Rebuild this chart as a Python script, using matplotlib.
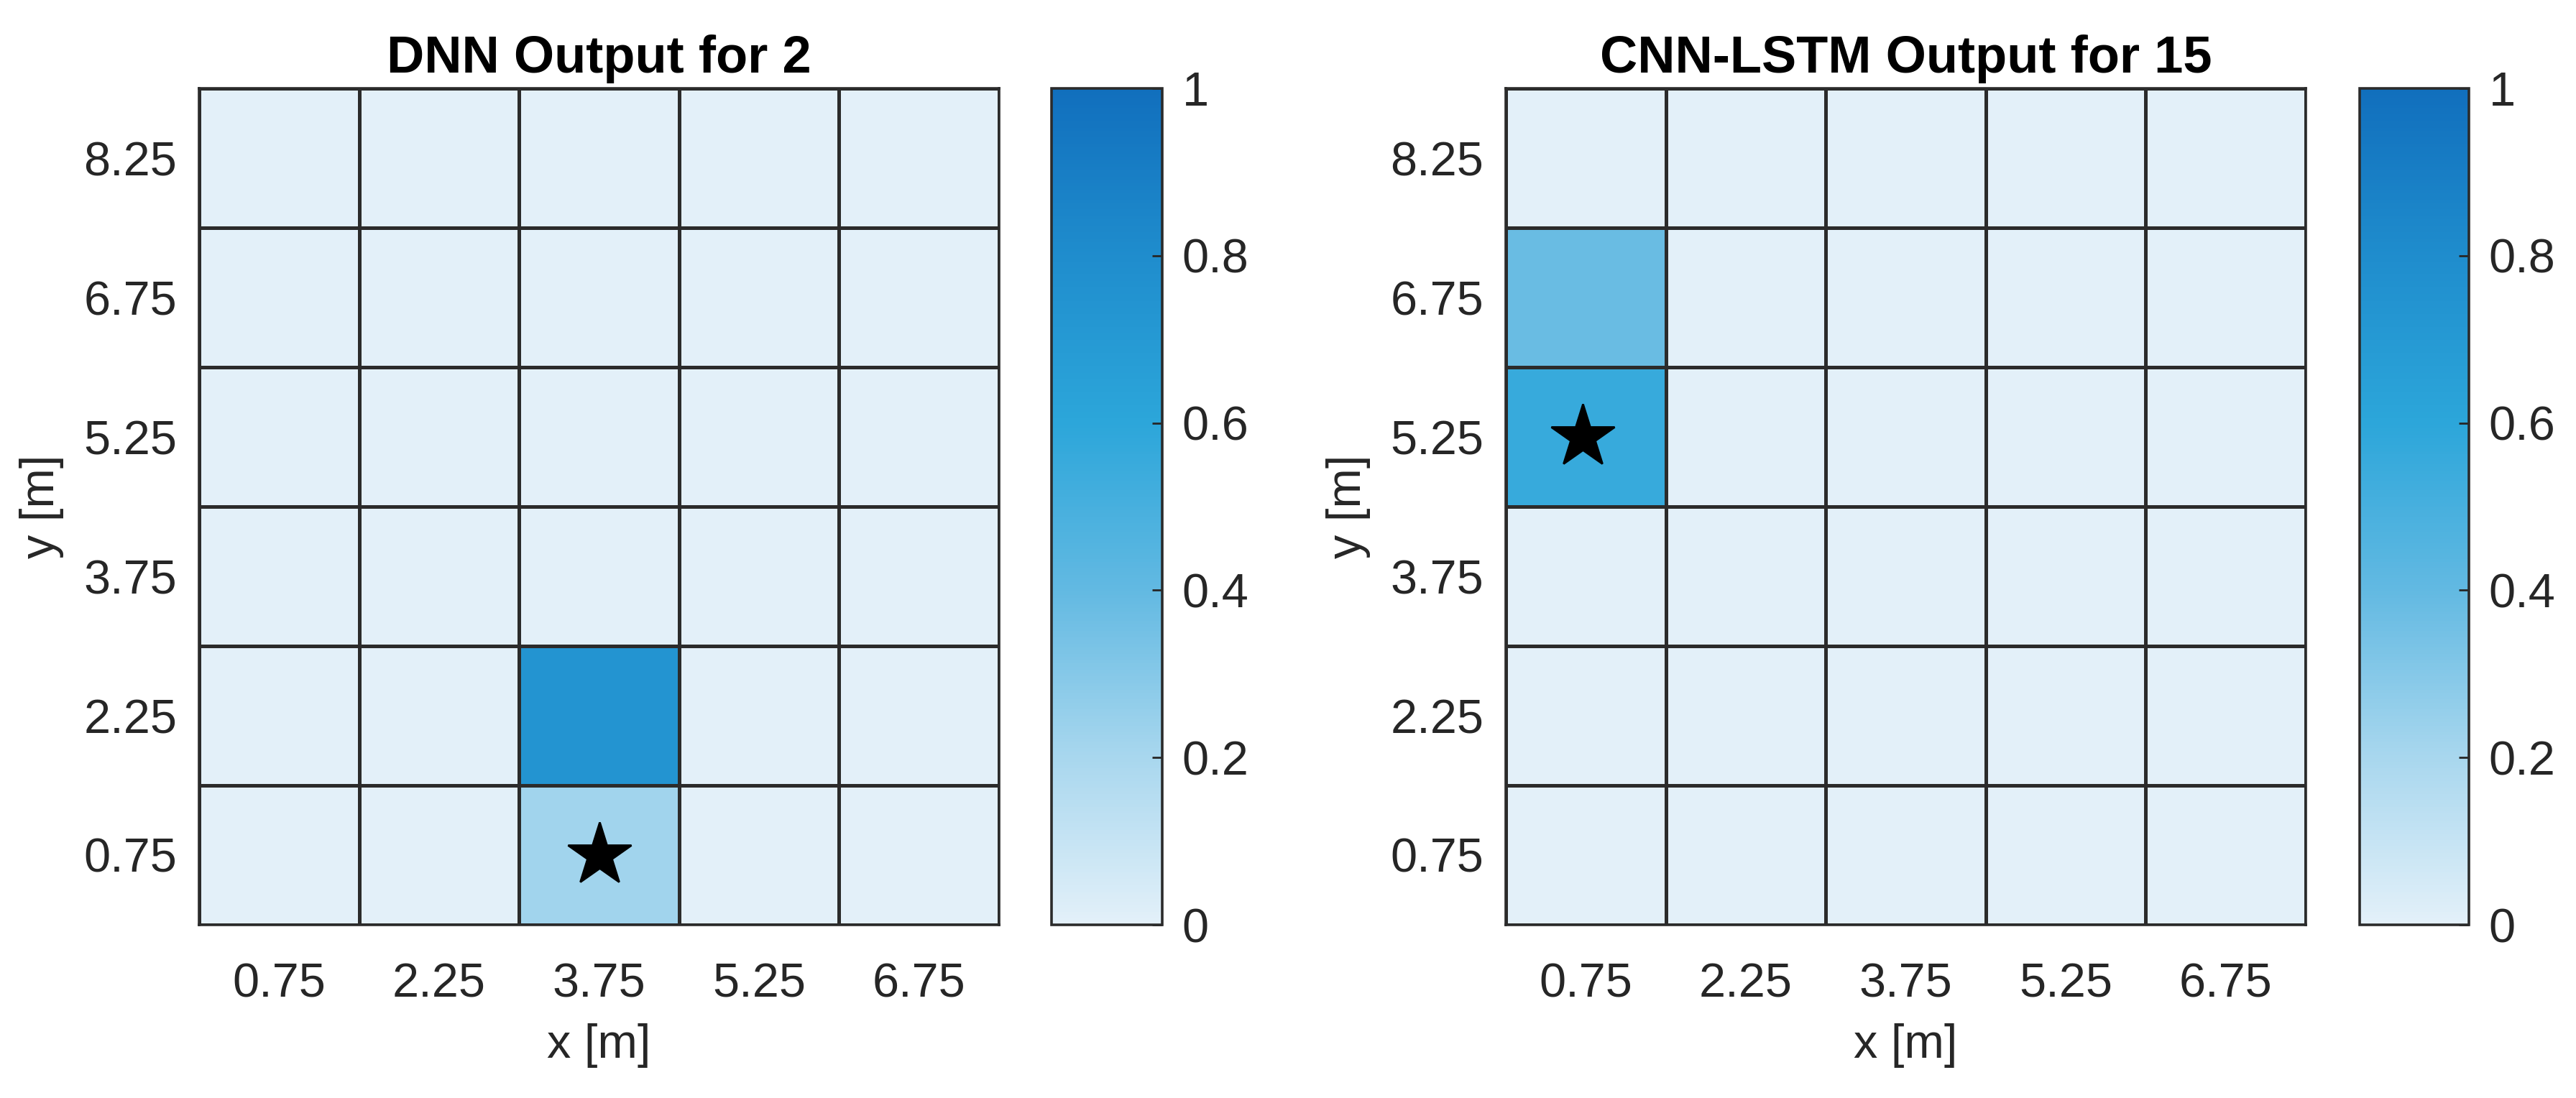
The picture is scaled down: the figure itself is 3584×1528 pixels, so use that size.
import numpy as np
import matplotlib
matplotlib.use("Agg")
import matplotlib.pyplot as plt
from matplotlib.colors import LinearSegmentedColormap

plt.rcParams['font.family'] = ['Liberation Sans', 'DejaVu Sans']

# ---- data ----
x_centers = [0.75, 2.25, 3.75, 5.25, 6.75]
y_centers = [0.75, 2.25, 3.75, 5.25, 6.75, 8.25]
tick_labels_x = ["0.75", "2.25", "3.75", "5.25", "6.75"]
tick_labels_y = ["0.75", "2.25", "3.75", "5.25", "6.75", "8.25"]

# rows = y (bottom to top), cols = x
dnn_values = [
    [0.0, 0.0, 0.22, 0.0, 0.0],   # y=0.75
    [0.0, 0.0, 0.74, 0.0, 0.0],   # y=2.25
    [0.0, 0.0, 0.0, 0.0, 0.0],    # y=3.75
    [0.0, 0.0, 0.0, 0.0, 0.0],    # y=5.25
    [0.0, 0.0, 0.0, 0.0, 0.0],    # y=6.75
    [0.0, 0.0, 0.0, 0.0, 0.0],    # y=8.25
]
cnnlstm_values = [
    [0.0, 0.0, 0.0, 0.0, 0.0],
    [0.0, 0.0, 0.0, 0.0, 0.0],
    [0.0, 0.0, 0.0, 0.0, 0.0],
    [0.56, 0.0, 0.0, 0.0, 0.0],
    [0.38, 0.0, 0.0, 0.0, 0.0],
    [0.0, 0.0, 0.0, 0.0, 0.0],
]
dnn_star = (3.75, 0.75)
cnnlstm_star = (0.72, 5.25)
titles = ["DNN Output for 2", "CNN-LSTM Output for 15"]
cbar_ticks = [0, 0.2, 0.4, 0.6, 0.8, 1]
cbar_ticklabels = ["0", "0.2", "0.4", "0.6", "0.8", "1"]

cmap = LinearSegmentedColormap.from_list(
    "blues_custom",
    [(0.0, "#E3F0F9"), (0.2, "#A8D7EE"), (0.4, "#62B9E2"),
     (0.6, "#2CA6DA"), (0.8, "#1F8DCD"), (1.0, "#116FBD")])

W, H = 3584, 1528
dpi = 200
fig = plt.figure(figsize=(W / dpi, H / dpi), dpi=dpi)

fs = 24
fs_title = 26
axes_pos = [
    (277 / W, 1 - 1287 / H, 1113 / W, 1164 / H),
    (2095 / W, 1 - 1287 / H, 1113 / W, 1164 / H),
]
cbar_pos = [
    (1463 / W, 1 - 1287 / H, 154 / W, 1164 / H),
    (3283 / W, 1 - 1287 / H, 152 / W, 1164 / H),
]

xe = np.array([c - 0.75 for c in x_centers] + [x_centers[-1] + 0.75])
ye = np.array([c - 0.75 for c in y_centers] + [y_centers[-1] + 0.75])

for i, (vals, star) in enumerate([(dnn_values, dnn_star), (cnnlstm_values, cnnlstm_star)]):
    ax = fig.add_axes(axes_pos[i])
    mesh = ax.pcolormesh(xe, ye, np.array(vals), cmap=cmap, vmin=0, vmax=1,
                         edgecolor="#2b2b2b", linewidth=1.1)
    ax.plot([star[0]], [star[1]], marker="*", color="black", markersize=33,
            linestyle="none")
    ax.set_xlim(xe[0], xe[-1])
    ax.set_ylim(ye[0], ye[-1])
    ax.set_xticks(x_centers)
    ax.set_xticklabels(tick_labels_x)
    ax.set_yticks(y_centers)
    ax.set_yticklabels(tick_labels_y)
    ax.tick_params(length=0, labelsize=fs, colors="#262626")
    ax.tick_params(axis="x", pad=19)
    ax.tick_params(axis="y", pad=11)
    for s in ax.spines.values():
        s.set_linewidth(1.3)
        s.set_color("#2b2b2b")
    ax.set_xlabel("x [m]", fontsize=fs, color="#262626", labelpad=8)
    ax.set_ylabel("y [m]", fontsize=fs, color="#262626", labelpad=10)
    ax.set_title(titles[i], fontsize=fs_title, fontweight="bold", pad=8)

    cax = fig.add_axes(cbar_pos[i])
    cb = fig.colorbar(mesh, cax=cax)
    cb.set_ticks(cbar_ticks)
    cb.set_ticklabels(cbar_ticklabels)
    cax.tick_params(direction="in", length=5, width=1.0, labelsize=fs,
                    colors="#262626", pad=10)
    cb.outline.set_linewidth(1.3)
    cb.outline.set_edgecolor("#2b2b2b")

fig.savefig("out.png", dpi=dpi, facecolor="white")
